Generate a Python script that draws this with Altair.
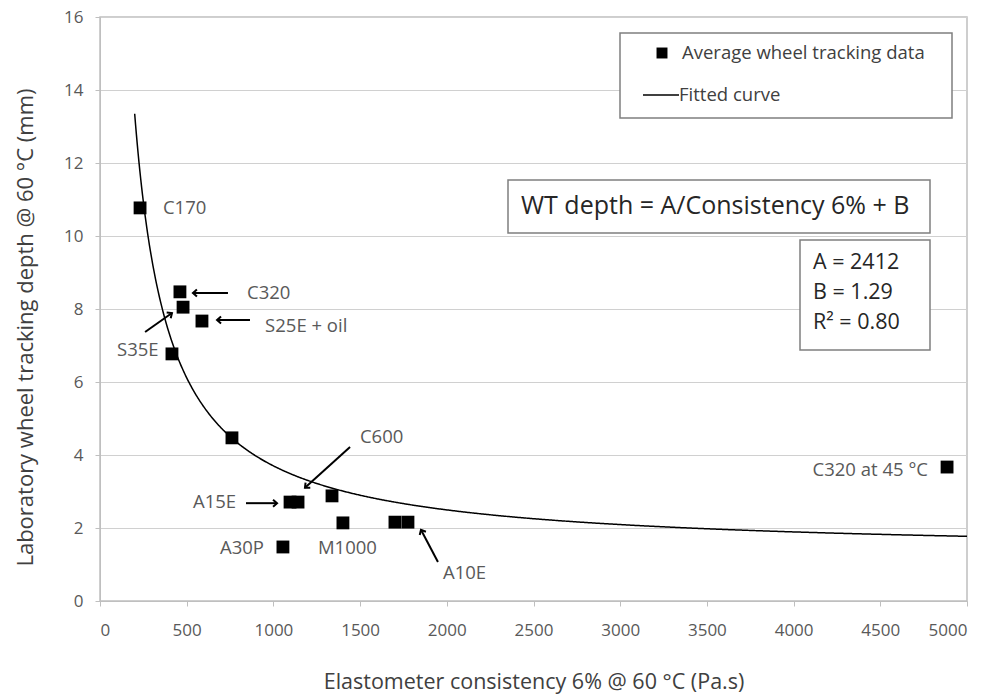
import math
import altair as alt
import pandas as pd

# Average wheel tracking results
consistency = [231, 461, 479, 588, 415, 761, 1096, 1142, 1338, 1401, 1701, 1776, 1055, 4885]
depth = [10.77, 8.47, 8.05, 7.67, 6.77, 4.47, 2.71, 2.71, 2.88, 2.14, 2.16, 2.16, 1.48, 3.67]

# Fitted curve: WT depth = A / consistency + B
A = 2412
B = 1.29
R2 = 0.80
curve_start, curve_end = 200, 5000

# Binder labels (data coordinates)
label_text = ["C170", "C320", "S25E + oil", "S35E", "C600", "A15E", "A30P", "M1000", "A10E", "C320 at 45 °C"]
label_x = [363, 848, 952, 98, 1499, 536, 692, 1257, 1978, 4775]
label_y = [10.77, 8.44, 7.53, 6.88, 4.49, 2.71, 1.45, 1.45, 0.77, 3.59]
label_align = ["left"] * 9 + ["right"]

# Arrows from label to point
arrow_x0 = [738, 865, 260, 1442, 842, 1949]
arrow_y0 = [8.44, 7.70, 7.37, 4.22, 2.68, 1.07]
arrow_x1 = [536, 675, 415, 1182, 1021, 1851]
arrow_y1 = [8.44, 7.70, 7.89, 3.10, 2.68, 1.95]

x_ticks = list(range(0, 5001, 500))
y_ticks = list(range(0, 17, 2))

W, H = 867, 584
X_MAX, Y_MAX = 5000, 16
FONT = "Open Sans"
GREY = "#595959"

xs = alt.Scale(domain=[0, X_MAX], nice=False, zero=True)
ys = alt.Scale(domain=[0, Y_MAX], nice=False)

pts = pd.DataFrame({"x": consistency, "y": depth})
labels = pd.DataFrame({"x": label_x, "y": label_y, "t": label_text, "a": label_align})


def heading(x0, y0, x1, y1):
    dx = (x1 - x0) * W / X_MAX
    dy = -(y1 - y0) * H / Y_MAX
    return math.degrees(math.atan2(dx, -dy)) % 360


arrows = pd.DataFrame({
    "x0": arrow_x0, "y0": arrow_y0, "x1": arrow_x1, "y1": arrow_y1,
    "ang": [heading(a, b, c, d) for a, b, c, d in zip(arrow_x0, arrow_y0, arrow_x1, arrow_y1)],
})

x_axis = alt.Axis(values=x_ticks, format="d", grid=False, title="Elastometer consistency 6% @ 60 °C (Pa.s)",
                  labelPadding=16, titlePadding=33, tickSize=5, domainColor="#bfbfbf", tickColor="#bfbfbf",
                  titleFontSize=21.5)
y_axis = alt.Axis(values=y_ticks, grid=True, title="Laboratory wheel tracking depth @ 60 °C (mm)",
                  labelPadding=12, tickSize=5, domainColor="#bfbfbf", tickColor="#bfbfbf",
                  gridColor="#d0d0d0", titleFontSize=22,
                  titleX=-75, titleY=310, titleAngle=270, titleAlign="center", titleBaseline="middle")

base_x = alt.X("x:Q", scale=xs, axis=x_axis)
base_y = alt.Y("y:Q", scale=ys, axis=y_axis)

curve = (
    alt.Chart(alt.sequence(curve_start, curve_end + 1, 5, as_="x"))
    .transform_calculate(y=f"{A} / datum.x + {B}")
    .mark_line(color="black", strokeWidth=1.5)
    .encode(x=base_x, y=base_y)
)

squares = alt.Chart(pts).mark_square(size=165, color="black", opacity=1).encode(
    x=alt.X("x:Q", scale=xs), y=alt.Y("y:Q", scale=ys)
)

text_left = alt.Chart(labels).transform_filter("datum.a == 'left'").mark_text(
    align="left", baseline="middle", font=FONT, fontSize=18.5, color=GREY
).encode(x=alt.X("x:Q", scale=xs), y=alt.Y("y:Q", scale=ys), text="t:N")

text_right = alt.Chart(labels).transform_filter("datum.a == 'right'").mark_text(
    align="right", baseline="middle", font=FONT, fontSize=18.5, color=GREY
).encode(x=alt.X("x:Q", scale=xs), y=alt.Y("y:Q", scale=ys), text="t:N")

shafts = alt.Chart(arrows).mark_rule(color="black", strokeWidth=2).encode(
    x=alt.X("x0:Q", scale=xs), y=alt.Y("y0:Q", scale=ys), x2="x1:Q", y2="y1:Q"
)

heads = alt.Chart(arrows).mark_point(
    shape="M -0.7 0.8 L 0 0 L 0.7 0.8", filled=False, color="black", strokeWidth=2, size=100, opacity=1
).encode(x=alt.X("x1:Q", scale=xs), y=alt.Y("y1:Q", scale=ys), angle=alt.Angle("ang:Q", scale=None))

one = alt.Data(values=[{}])


def box(x0, y0, x1, y1):
    return alt.Chart(one).mark_rect(fill="white", stroke="#7f7f7f", strokeWidth=1.5).encode(
        x=alt.value(x0), x2=alt.value(x1), y=alt.value(y0), y2=alt.value(y1)
    )


def note(txt, x, y, size, color="#404040"):
    return alt.Chart(one).mark_text(
        text=txt, align="left", baseline="middle", font=FONT, fontSize=size, color=color
    ).encode(x=alt.value(x), y=alt.value(y))


legend = alt.layer(
    box(520, 16, 852, 101),
    alt.Chart(one).mark_square(size=120, color="black", opacity=1).encode(x=alt.value(562), y=alt.value(36)),
    note("Average wheel tracking data", 582, 36, 18.5),
    alt.Chart(one).mark_rule(color="black", strokeWidth=1.5).encode(
        x=alt.value(543), x2=alt.value(579), y=alt.value(78)
    ),
    note("Fitted curve", 579, 78, 18.5),
)

equation = alt.layer(
    box(408, 163, 830, 216),
    note("WT depth = A/Consistency 6% + B", 421, 189, 25, "#262626"),
    box(700, 223, 830, 333),
    note(f"A = {A}", 713, 246, 21.5, "#262626"),
    note(f"B = {B}", 713, 276, 21.5, "#262626"),
    note(f"R² = {R2:.2f}", 713, 306, 21.5, "#262626"),
)

chart = alt.layer(
    curve, squares, shafts, heads, text_left, text_right, legend, equation
).properties(
    width=W, height=H,
    padding={"left": 100, "top": 17, "right": 19, "bottom": 95},
    autosize=alt.AutoSizeParams(type="none"),
    background="white",
).configure_view(
    stroke="#bfbfbf", strokeWidth=1.5
).configure_axis(
    labelFont=FONT, labelFontSize=17, labelColor=GREY,
    titleFont=FONT, titleColor="#404040", titleFontWeight="normal",
)

chart.save("out.html", embed_options={"renderer": "svg", "actions": False})
